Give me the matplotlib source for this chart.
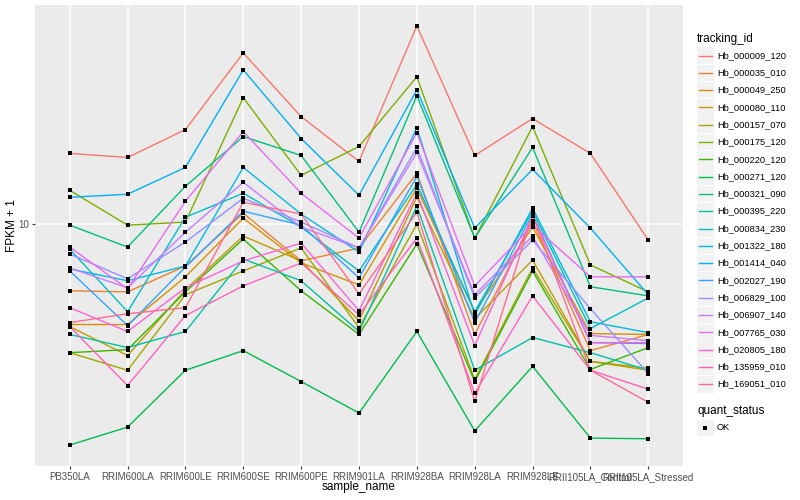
import matplotlib
matplotlib.use("Agg")
import matplotlib.pyplot as plt
import numpy as np
from matplotlib.patches import Rectangle
from matplotlib.lines import Line2D
from matplotlib.ticker import NullLocator, FixedLocator

plt.rcParams['font.family'] = ['Liberation Sans', 'DejaVu Sans']

samples = ["PB350LA", "RRIM600LA", "RRIM600LE", "RRIM600SE", "RRIM600PE",
           "RRIM901LA", "RRIM928BA", "RRIM928LA", "RRIM928LE",
           "RRII105LA_Control", "RRII105LA_Stressed"]

tracking_ids = ["Hb_000009_120", "Hb_000035_010", "Hb_000049_250", "Hb_000080_110",
                "Hb_000157_070", "Hb_000175_120", "Hb_000220_120", "Hb_000271_120",
                "Hb_000321_090", "Hb_000395_220", "Hb_000834_230", "Hb_001322_180",
                "Hb_001414_040", "Hb_002027_190", "Hb_006829_100", "Hb_006907_140",
                "Hb_007765_030", "Hb_020805_180", "Hb_135959_010", "Hb_169051_010"]

colors = ["#F8766D", "#EA8331", "#D89000", "#C09B00", "#A3A500", "#7CAE00",
          "#39B600", "#00BB4E", "#00BF7D", "#00C1A3", "#00BFC4", "#00BAE0",
          "#00B0F6", "#35A2FF", "#9590FF", "#C77CFF", "#E76BF3", "#FA62DB",
          "#FF62BC", "#FF6C91"]

# FPKM + 1 values, one list per tracking_id (order of samples)
hb_000009_120 = [17.25, 16.72, 20.73, 37.44, 22.91, 16.22, 46.10, 16.98, 22.56, 17.25, 8.84]
hb_000035_010 = [5.98, 5.93, 7.24, 10.88, 7.53, 8.32, 14.79, 4.27, 10.23, 3.77, 4.27]
hb_000049_250 = [4.61, 4.61, 6.66, 10.47, 7.41, 6.26, 13.18, 5.09, 9.77, 4.30, 4.27]
hb_000080_110 = [4.54, 3.63, 6.03, 9.12, 7.53, 4.75, 12.30, 4.82, 7.58, 3.47, 3.24]
hb_000157_070 = [3.71, 3.24, 5.80, 6.97, 8.32, 4.50, 10.00, 3.02, 7.13, 3.47, 3.29]
hb_000175_120 = [12.98, 9.92, 10.16, 26.51, 14.57, 18.20, 31.14, 8.98, 21.22, 7.30, 5.93]
hb_000220_120 = [3.71, 3.80, 5.93, 8.91, 5.98, 4.27, 8.58, 2.97, 6.97, 3.26, 3.86]
hb_000271_120 = [1.82, 2.09, 3.24, 3.77, 2.97, 2.33, 4.37, 2.03, 3.34, 1.92, 1.91]
hb_000321_090 = [9.92, 8.38, 13.39, 19.65, 16.98, 9.40, 26.92, 8.98, 18.06, 6.17, 5.75]
hb_000395_220 = [4.27, 3.86, 4.37, 7.64, 6.46, 4.37, 11.48, 3.24, 4.17, 3.71, 3.24]
hb_000834_230 = [8.25, 5.09, 10.55, 12.69, 9.77, 6.97, 13.59, 5.09, 11.05, 4.47, 5.66]
hb_001322_180 = [7.08, 6.46, 7.24, 15.49, 10.80, 8.06, 21.05, 4.97, 11.31, 4.71, 4.33]
hb_001414_040 = [12.30, 12.59, 15.49, 32.86, 19.35, 12.49, 28.18, 9.70, 15.25, 9.70, 5.80]
hb_002027_190 = [6.97, 4.57, 7.18, 11.05, 9.92, 6.61, 14.45, 4.68, 10.80, 4.01, 3.98]
hb_006829_100 = [7.94, 6.56, 8.71, 12.21, 10.16, 8.32, 18.06, 5.66, 8.84, 5.21, 3.16]
hb_006907_140 = [7.13, 6.12, 9.40, 13.80, 9.77, 8.32, 17.38, 5.80, 9.12, 4.24, 4.07]
hb_007765_030 = [8.38, 6.07, 11.93, 20.42, 12.69, 8.98, 20.26, 6.21, 9.92, 6.66, 6.66]
hb_020805_180 = [5.25, 4.37, 6.12, 7.53, 8.64, 5.13, 12.69, 3.92, 10.63, 4.01, 4.01]
hb_135959_010 = [4.54, 2.88, 4.94, 6.21, 7.41, 4.97, 8.98, 2.71, 5.75, 3.24, 2.80]
hb_169051_010 = [4.68, 5.01, 5.25, 11.84, 10.80, 5.84, 10.97, 2.55, 10.80, 3.24, 2.53]

series = [hb_000009_120, hb_000035_010, hb_000049_250, hb_000080_110, hb_000157_070,
          hb_000175_120, hb_000220_120, hb_000271_120, hb_000321_090, hb_000395_220,
          hb_000834_230, hb_001322_180, hb_001414_040, hb_002027_190, hb_006829_100,
          hb_006907_140, hb_007765_030, hb_020805_180, hb_135959_010, hb_169051_010]

W, H = 800, 500
fig = plt.figure(figsize=(W / 100, H / 100), dpi=100)
fig.patch.set_facecolor("white")

L, R, T, B = 35, 683, 5, 466
ax = fig.add_axes([L / W, 1 - B / H, (R - L) / W, (B - T) / H])
ax.set_facecolor("#EBEBEB")

x = np.arange(len(samples))
for vals, c in zip(series, colors):
    ax.plot(x, vals, color=c, lw=1.0, zorder=3)
for vals in series:
    ax.plot(x, vals, ls="none", marker="s", ms=3.0, mew=0, color="black", zorder=4)

ax.set_yscale("log")
allv = np.concatenate([np.asarray(s) for s in series])
lo, hi = np.log10(allv.min()), np.log10(allv.max())
pad = 0.05 * (hi - lo)
ax.set_ylim(10 ** (lo - pad), 10 ** (hi + pad))
ax.set_xlim(-0.6, len(samples) - 1 + 0.6)

ax.yaxis.set_major_locator(FixedLocator([10]))
ax.yaxis.set_minor_locator(NullLocator())
ax.set_yticklabels(["10"])
ax.set_xticks(x)
ax.set_xticklabels(samples)

ax.grid(True, color="white", lw=1.1, zorder=0)
ax.set_axisbelow(True)
for s in ax.spines.values():
    s.set_visible(False)
ax.tick_params(axis="both", colors="#333333", labelcolor="#4D4D4D",
               labelsize=7, length=2.5, width=0.8, pad=2)


def fx(px):
    return px / W


def fy(py):
    return 1 - py / H


fig.text(fx(359), fy(487), "sample_name", fontsize=8.5, ha="center", va="center")
fig.text(fx(12), fy(226), "FPKM + 1", fontsize=8.5, ha="center", va="center",
         rotation=90)

# legend: tracking_id
fig.text(fx(697), fy(39), "tracking_id", fontsize=8.5, va="center", ha="left")
y0, dy = 55.5, 17.3
for i, (name, c) in enumerate(zip(tracking_ids, colors)):
    yc = y0 + i * dy
    fig.patches.append(Rectangle((fx(697), fy(yc + 8.3)), 16.6 / W, 16.6 / H,
                                 transform=fig.transFigure, facecolor="#F2F2F2",
                                 edgecolor="none"))
    fig.lines.append(Line2D([fx(698.5), fx(712)], [fy(yc), fy(yc)],
                            transform=fig.transFigure, color=c, lw=1.0))
    fig.text(fx(717), fy(yc), name, fontsize=6.7, va="center", ha="left")

# legend: quant_status
fig.text(fx(697), fy(411), "quant_status", fontsize=8.5, va="center", ha="left")
yq = 428
fig.patches.append(Rectangle((fx(697), fy(yq + 8.3)), 16.6 / W, 16.6 / H,
                             transform=fig.transFigure, facecolor="#F2F2F2",
                             edgecolor="none"))
fig.lines.append(Line2D([fx(705.3)], [fy(yq)], transform=fig.transFigure,
                        ls="none", marker="s", ms=3.0, mew=0, color="black"))
fig.text(fx(717), fy(yq), "OK", fontsize=6.7, va="center", ha="left")

fig.savefig("out.png", dpi=100)
